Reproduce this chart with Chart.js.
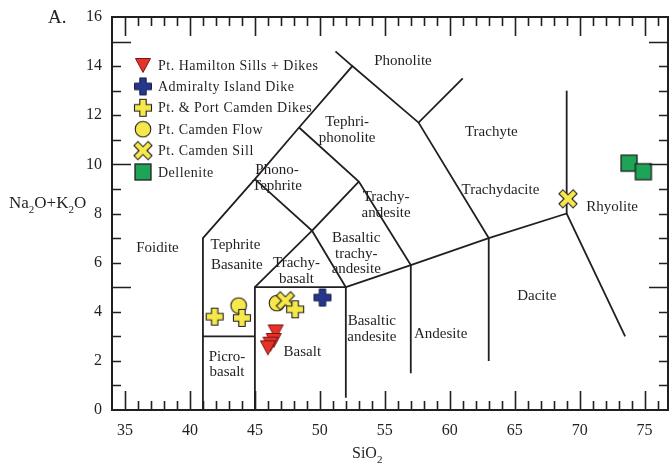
<!DOCTYPE html>
<html>
<head>
<meta charset="utf-8">
<script src="https://cdn.jsdelivr.net/npm/chart.js@4.4.0/dist/chart.umd.min.js"></script>
<style>
  body { margin: 0; background: #fff; }
  #wrap { width: 670px; height: 471px; }
</style>
</head>
<body>
<div id="wrap"><canvas id="tas" width="670" height="471"></canvas></div>
<script>
// TAS diagram - total alkali vs silica

// samples (SiO2, Na2O+K2O)
var hamiltonSi = [46.6, 46.45, 46.2, 46.0];
var hamiltonAlk = [3.2, 2.85, 2.7, 2.55];
var admiraltySi = [50.2];
var admiraltyAlk = [4.58];
var camdenDikesSi = [41.9, 44.0, 48.1];
var camdenDikesAlk = [3.8, 3.75, 4.1];
var camdenFlowSi = [43.75, 46.7];
var camdenFlowAlk = [4.25, 4.35];
var camdenSillSi = [47.35, 69.1];
var camdenSillAlk = [4.45, 8.6];
var dellSi = [73.8, 74.9];
var dellAlk = [10.05, 9.7];

var legendNames = ['Pt. Hamilton Sills + Dikes', 'Admiralty Island Dike', 'Pt. & Port Camden Dikes',
  'Pt. Camden Flow', 'Pt. Camden Sill', 'Dellenite'];

var xTicks = [35, 40, 45, 50, 55, 60, 65, 70, 75];
var yTicks = [0, 2, 4, 6, 8, 10, 12, 14, 16];

// field boundaries, as drawn in the figure
var boundaries = [
  [[41, 0], [41, 7], [45, 9.4], [48.4, 11.5], [52.5, 14], [57.6, 11.7], [61, 13.5]],
  [[51.2, 14.6], [52.5, 14]],
  [[41, 3], [45, 3]],
  [[45, 0], [45, 5], [52, 5], [52, 0.5]],
  [[45, 5], [49.4, 7.3], [52, 5]],
  [[45, 9.4], [49.4, 7.3], [53, 9.3]],
  [[48.4, 11.5], [53, 9.3], [57, 5.9], [57, 1.5]],
  [[52, 5], [57, 5.9], [63, 7], [69, 8], [73.5, 3]],
  [[57.6, 11.7], [63, 7], [63, 2]],
  [[69, 8], [69, 13]]
];

var fieldNames = [
  ['Phonolite', 56.4, 14.2],
  ['Tephri-\nphonolite', 52.1, 11.4],
  ['Trachyte', 63.2, 11.3],
  ['Phono-\nTephrite', 46.7, 9.45],
  ['Trachy-\nandesite', 55.1, 8.35],
  ['Trachydacite', 63.9, 8.95],
  ['Rhyolite', 72.5, 8.25],
  ['Foidite', 37.5, 6.6],
  ['Tephrite', 43.5, 6.7],
  ['Basanite', 43.6, 5.9],
  ['Trachy-\nbasalt', 48.2, 5.65],
  ['Basaltic\ntrachy-\nandesite', 52.8, 6.35],
  ['Picro-\nbasalt', 42.85, 1.85],
  ['Basalt', 48.65, 2.35],
  ['Basaltic\nandesite', 54.0, 3.3],
  ['Andesite', 59.3, 3.1],
  ['Dacite', 66.7, 4.65]
];

var ink = '#231f20';
var serif = '"Liberation Serif", "DejaVu Serif", serif';

function toPts(xs, ys) {
  return xs.map(function (v, i) { return { x: v, y: ys[i] }; });
}

// marker images
function marker(draw) {
  var c = document.createElement('canvas');
  c.width = 22; c.height = 22;
  var g = c.getContext('2d');
  g.translate(11, 11);
  g.lineJoin = 'miter';
  draw(g);
  return c;
}
function plusPath(g, s, a) {
  g.beginPath();
  g.moveTo(-a, -s); g.lineTo(a, -s); g.lineTo(a, -a); g.lineTo(s, -a);
  g.lineTo(s, a); g.lineTo(a, a); g.lineTo(a, s); g.lineTo(-a, s);
  g.lineTo(-a, a); g.lineTo(-s, a); g.lineTo(-s, -a); g.lineTo(-a, -a);
  g.closePath();
}
var triMark = marker(function (g) {
  g.beginPath();
  g.moveTo(-7.5, -6.5); g.lineTo(7.5, -6.5); g.lineTo(0, 7.5); g.closePath();
  g.fillStyle = '#e5332a'; g.fill();
  g.strokeStyle = '#7a1410'; g.lineWidth = 1; g.stroke();
});
var blueMark = marker(function (g) {
  plusPath(g, 8.5, 3.2);
  g.fillStyle = '#27378a'; g.fill();
  g.strokeStyle = '#141c4c'; g.lineWidth = 1; g.stroke();
});
var plusMark = marker(function (g) {
  plusPath(g, 8.5, 3.2);
  g.fillStyle = '#f6e84a'; g.fill();
  g.strokeStyle = ink; g.lineWidth = 1.1; g.stroke();
});
var circMark = marker(function (g) {
  g.beginPath(); g.arc(0, 0, 7.8, 0, Math.PI * 2);
  g.fillStyle = '#f6e84a'; g.fill();
  g.strokeStyle = ink; g.lineWidth = 1.1; g.stroke();
});
var xMark = marker(function (g) {
  g.rotate(Math.PI / 4);
  plusPath(g, 10, 2.8);
  g.fillStyle = '#f6e84a'; g.fill();
  g.strokeStyle = ink; g.lineWidth = 1.1; g.stroke();
});
var sqMark = marker(function (g) {
  g.fillStyle = '#1ea457'; g.fillRect(-8, -8, 16, 16);
  g.strokeStyle = ink; g.lineWidth = 1.3; g.strokeRect(-8, -8, 16, 16);
});
var marks = [triMark, blueMark, plusMark, circMark, xMark, sqMark];

var lineSets = boundaries.map(function (b) {
  return {
    data: b.map(function (p) { return { x: p[0], y: p[1] }; }),
    showLine: true, borderColor: ink, borderWidth: 1.8,
    pointRadius: 0, order: 10
  };
});

function pointSet(label, xs, ys, img, ord) {
  return { label: label, data: toPts(xs, ys), pointStyle: img, pointRadius: 8, order: ord };
}

var pointSets = [
  pointSet(legendNames[0], hamiltonSi, hamiltonAlk, triMark, 5),
  pointSet(legendNames[1], admiraltySi, admiraltyAlk, blueMark, 4),
  pointSet(legendNames[2], camdenDikesSi, camdenDikesAlk, plusMark, 1),
  pointSet(legendNames[3], camdenFlowSi, camdenFlowAlk, circMark, 3),
  pointSet(legendNames[4], camdenSillSi, camdenSillAlk, xMark, 2),
  pointSet(legendNames[5], dellSi, dellAlk, sqMark, 0)
];

function subText(ctx, parts, x, y, big, small) {
  parts.forEach(function (p) {
    ctx.font = (p[1] ? small : big) + 'px ' + serif;
    ctx.fillText(p[0], x, y + (p[1] ? 5 : 0));
    x += ctx.measureText(p[0]).width;
  });
}

var extras = {
  id: 'extras',
  beforeDatasetsDraw: function (chart) {
    var ctx = chart.ctx, sx = chart.scales.x, sy = chart.scales.y;
    ctx.save();
    ctx.fillStyle = ink;
    ctx.font = '15px ' + serif;
    ctx.textAlign = 'center';
    ctx.textBaseline = 'middle';
    fieldNames.forEach(function (f) {
      var lines = f[0].split('\n');
      var cx = sx.getPixelForValue(f[1]);
      var cy = sy.getPixelForValue(f[2]) - (lines.length - 1) * 15.5 / 2;
      lines.forEach(function (l, i) { ctx.fillText(l, cx, cy + i * 15.5); });
    });
    ctx.restore();
  },
  afterDraw: function (chart) {
    var ctx = chart.ctx, a = chart.chartArea, sx = chart.scales.x, sy = chart.scales.y;
    ctx.save();
    ctx.strokeStyle = ink;
    ctx.lineWidth = 1.6;
    ctx.beginPath();
    for (var v = 35; v <= 76; v++) {
      var len = v % 5 === 0 ? 19 : 9;
      var px = Math.round(sx.getPixelForValue(v)) + 0.5;
      ctx.moveTo(px, a.bottom); ctx.lineTo(px, a.bottom - len);
      ctx.moveTo(px, a.top); ctx.lineTo(px, a.top + len);
    }
    for (var w = 1; w <= 15; w++) {
      var l2 = w % 5 === 0 ? 19 : 9;
      var py = Math.round(sy.getPixelForValue(w)) + 0.5;
      ctx.moveTo(a.left, py); ctx.lineTo(a.left + l2, py);
      ctx.moveTo(a.right, py); ctx.lineTo(a.right - l2, py);
    }
    ctx.stroke();
    ctx.lineWidth = 2;
    ctx.strokeRect(a.left, a.top, a.right - a.left, a.bottom - a.top);

    // legend
    ctx.fillStyle = ink;
    ctx.textAlign = 'left';
    ctx.textBaseline = 'middle';
    ctx.font = '14px ' + serif;
    ctx.letterSpacing = '0.5px';
    legendNames.forEach(function (n, i) {
      var y = 65 + i * 21.4;
      ctx.drawImage(marks[i], 143 - 11, y - 11);
      ctx.fillText(n, 158, y + 1);
    });
    ctx.letterSpacing = '0px';

    // titles
    ctx.textBaseline = 'alphabetic';
    subText(ctx, [['Na', 0], ['2', 1], ['O+K', 0], ['2', 1], ['O', 0]], 9, 208, 17, 11);
    subText(ctx, [['SiO', 0], ['2', 1]], 352, 458, 16, 11);
    ctx.font = '19px ' + serif;
    ctx.fillText('A.', 48, 23);
    ctx.restore();
  }
};

new Chart(document.getElementById('tas'), {
  type: 'scatter',
  data: { datasets: pointSets.concat(lineSets) },
  options: {
    responsive: false,
    animation: false,
    layout: { autoPadding: false, padding: { top: 17, right: 2, left: 0, bottom: 0 } },
    plugins: { legend: { display: false }, tooltip: { enabled: false } },
    scales: {
      x: {
        type: 'linear', min: 34, max: 76.8,
        grid: { display: false, drawTicks: false }, border: { display: false },
        afterBuildTicks: function (s) { s.ticks = xTicks.map(function (v) { return { value: v }; }); },
        afterFit: function (s) { s.height = 61; s.paddingLeft = 0; s.paddingRight = 0; },
        ticks: { font: { family: serif, size: 16 }, color: ink, padding: 11, maxRotation: 0, autoSkip: false }
      },
      y: {
        type: 'linear', min: 0, max: 16,
        grid: { display: false, drawTicks: false }, border: { display: false },
        afterBuildTicks: function (s) { s.ticks = yTicks.map(function (v) { return { value: v }; }); },
        afterFit: function (s) { s.width = 112; s.paddingTop = 0; s.paddingBottom = 0; },
        ticks: { font: { family: serif, size: 16 }, color: ink, padding: 10, autoSkip: false }
      }
    }
  },
  plugins: [extras]
});
</script>
</body>
</html>
